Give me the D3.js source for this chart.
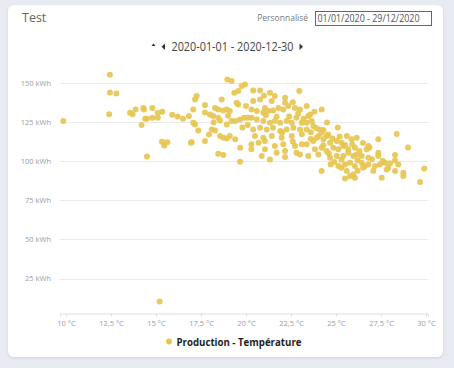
<!DOCTYPE html>
<html>
<head>
<meta charset="utf-8">
<script src="https://cdn.jsdelivr.net/npm/d3@7"></script>
<style>
  body { margin: 0; background: #e9ebf2; }
  svg { display: block; }
</style>
</head>
<body>
<div id="chart"></div>
<script>
// data: one temperature (°C) and one production (kWh) per day
var temperature = [
  9.85, 12.44, 12.44, 12.8, 12.4, 13.56, 13.7, 13.87, 14.3, 14.33, 14.8, 15.1, 15.35, 15.9, 16.2, 16.5,
  14.4, 14.5, 14.8, 15.1, 14.2, 15.33, 15.63, 15.46, 14.5, 15.2,
  18.96, 19.2, 19.57, 19.76, 19.94, 19.35, 17.26, 17.17, 18.65, 17.07, 17.72, 18.28, 18.46, 18.74, 18.93, 19.1,
  19.57, 19.48, 16.83, 17.72, 18.0, 18.18, 18.46, 18.56, 17.07, 17.17, 18.93, 19.2, 19.4, 19.67, 19.9, 20.1,
  17.35, 18.1, 18.28, 17.94, 18.56, 18.74, 18.93, 19.1, 19.4, 16.94, 17.72, 16.98, 19.67, 18.46, 18.74, 19.67,
  20.4, 20.78, 21.33, 21.6, 22.96, 20.4, 20.78, 21.05, 21.43, 22.17, 22.17, 20.3, 20.6, 20.96, 21.24, 21.5,
  21.8, 22.07, 22.35, 22.72, 23.0, 20.3, 20.6, 20.96, 21.33, 21.6, 21.9, 22.26, 22.54, 22.8, 23.1, 20.4,
  20.78, 21.15, 21.5, 21.9, 22.26, 22.63, 23.0, 20.5, 20.96, 21.43, 21.98, 22.54, 20.3, 20.7, 21.05, 21.6,
  22.07, 22.72, 23.1, 20.3, 21.05, 21.7, 22.17, 22.8, 20.87, 21.33, 22.17, 23.0,
  24.2, 23.37, 23.56, 23.46, 23.37, 23.65, 23.74, 23.37, 24.1, 24.2, 24.57, 24.48, 24.02, 23.74, 23.93, 24.3,
  24.67, 25.04, 25.3, 25.6, 25.87, 26.15, 23.37, 23.83, 24.2, 24.48, 24.85, 25.13, 25.4, 25.68, 26.05, 23.46,
  24.02, 24.67, 25.04, 25.4, 25.68, 25.96, 26.15, 25.13, 25.3, 25.5, 25.78, 26.05, 25.96, 24.2, 25.6, 25.78, 26.05,
  27.35, 26.8, 26.7, 26.85, 26.43, 26.8, 27.35, 27.35, 28.28, 28.28, 26.43, 26.6, 26.5, 26.8, 27.17, 27.44,
  27.72, 27.9, 27.82, 27.07, 27.54, 28.28, 28.46, 28.74, 28.74, 28.37, 29.0, 29.9, 29.67,
  22.4, 22.9, 23.2, 23.6, 23.9, 24.3, 24.8, 25.2, 25.5, 25.9, 26.3, 26.2, 25.3, 24.9, 24.6, 24.3,
  23.6, 23.1, 22.6, 22.0, 21.7, 21.1, 20.1, 19.8, 19.0, 18.2, 20.0, 21.0, 22.6, 23.8, 24.5, 25.1,
  26.5, 27.0, 27.6, 28.0, 26.2, 24.7, 25.5
];
var production = [
  125.6, 155.2, 143.9, 143.2, 130, 130.9, 130, 133, 134, 133, 133.9, 130.7, 131.5, 129.6, 128.5, 127,
  127, 127, 127.7, 127.7, 123, 112.4, 112, 110, 103, 10.4,
  152.2, 151.2, 144.8, 148, 149, 143.7, 141.6, 139.4, 139.4, 133, 135.8, 134, 133, 132.4, 133, 132,
  136.2, 137.3, 128.8, 131, 129.8, 128.8, 127.7, 126, 124.5, 123.4, 123.4, 125.6, 125.6, 126.6, 127.7, 127.7,
  119.6, 120.2, 119.6, 117, 116, 115, 114.5, 116, 113.9, 111.7, 112.8, 112, 108.6, 104.7, 103.9, 99.6,
  145.1, 145.1, 143.7, 141.6, 144.8, 138.4, 139.4, 134, 138.4, 140.5, 137.3, 133, 132, 131, 132, 132.4,
  134, 133, 135.2, 134, 133, 127.7, 126.6, 125.6, 124.5, 125.6, 124.5, 125.6, 124.5, 127.7, 124.5, 120.2,
  121.3, 120.2, 121.3, 119.2, 120.2, 121.3, 120.2, 116, 115, 116, 115, 116, 110.7, 111.7, 112.8, 109.6,
  110.7, 109.6, 110.7, 107.5, 107.5, 105.4, 106.4, 105.4, 103.2, 101.1, 102.6, 104.3,
  133, 135.2, 129.8, 128.8, 124.5, 125.6, 122.4, 120.2, 120.2, 118.1, 117, 116, 116, 112.8, 115, 113.9,
  111.7, 112.8, 111.7, 116, 113.9, 115, 110.7, 107.5, 108.6, 106.4, 108.6, 107.5, 109.6, 107.5, 108.6, 103.2,
  104.3, 102.2, 103.2, 103.2, 105.4, 103.2, 104.3, 96.9, 95.8, 97.9, 99, 96.9, 91.5, 93.7, 93.7, 90.5, 89.4,
  113.9, 109.6, 107.5, 108.6, 103.2, 102.2, 105.4, 103.2, 103.9, 100.4, 99, 96.9, 95.8, 97.9, 96.9, 97.9,
  99, 95.8, 94.7, 93.7, 89.4, 93.7, 97.9, 92.6, 90.5, 117.3, 108.7, 95.3, 86.7,
  128.5, 130.2, 127, 118.5, 121, 119.8, 114.5, 115.8, 110.3, 110.8, 106.5, 100.5, 100.8, 99.5, 104.8, 110.2,
  114.2, 117.2, 112.5, 118.2, 128.4, 129.3, 123.1, 121.4, 129, 124.6, 135.2, 141.8, 137.6, 131.5, 124.6, 121.4,
  111.6, 101.2, 100.2, 98.6, 93.8, 97.8, 88.9
];
var xTicks = [10, 12.5, 15, 17.5, 20, 22.5, 25, 27.5, 30];
var yTicks = [25, 50, 75, 100, 125, 150];
var seriesName = "Production - Température";
var periodLabel = "2020-01-01 - 2020-12-30";
var pickerLabel = "01/01/2020 - 29/12/2020";

var svgWidth = 454;
var svgHeight = 368;
var dotColor = "#e6c551";

var svg = d3.select("#chart")
  .append("svg")
  .attr("width", svgWidth)
  .attr("height", svgHeight)
  .style("font-family", "'Open Sans', sans-serif");

// soft shadow for the card
var defs = svg.append("defs");
var shadow = defs.append("filter").attr("id", "shadow")
  .attr("x", "-5%").attr("y", "-5%").attr("width", "110%").attr("height", "110%");
shadow.append("feDropShadow")
  .attr("dx", 0).attr("dy", 1).attr("stdDeviation", 1.5)
  .attr("flood-color", "#9aa0b5").attr("flood-opacity", 0.35);

svg.append("rect")
  .attr("x", 8).attr("y", 5)
  .attr("width", 435).attr("height", 352)
  .attr("rx", 6)
  .attr("fill", "#fff")
  .attr("filter", "url(#shadow)");

// header
svg.append("text")
  .attr("x", 22).attr("y", 22)
  .attr("font-size", 12.5)
  .attr("fill", "#666")
  .text("Test");

svg.append("text")
  .attr("x", 308).attr("y", 21)
  .attr("text-anchor", "end")
  .attr("font-size", 8.5)
  .attr("fill", "#7a7a7a")
  .text("Personnalisé");

svg.append("rect")
  .attr("x", 315.5).attr("y", 11.5)
  .attr("width", 116).attr("height", 14)
  .attr("fill", "#fff")
  .attr("stroke", "#666")
  .attr("stroke-width", 1);

svg.append("text")
  .attr("x", 317.5).attr("y", 22.3)
  .attr("font-size", 10)
  .attr("fill", "#555")
  .attr("textLength", 102)
  .attr("lengthAdjust", "spacingAndGlyphs")
  .text(pickerLabel);

// period navigation
var nav = svg.append("g").attr("fill", "#333");
nav.append("path").attr("d", "M151.5,46 L153.5,43.5 L155.5,46 Z");
nav.append("path").attr("d", "M165,43.5 L161.5,46.8 L165,50 Z");
nav.append("path").attr("d", "M299.5,43.5 L303,46.8 L299.5,50 Z");
svg.append("text")
  .attr("x", 171.5).attr("y", 51)
  .attr("font-size", 12)
  .attr("fill", "#444")
  .attr("textLength", 122)
  .attr("lengthAdjust", "spacingAndGlyphs")
  .text(periodLabel);

// scales
var xScale = d3.scaleLinear()
  .domain([9.667, 30.11])
  .range([60, 428]);

var yScale = d3.scaleLinear()
  .domain([3, 158])
  .range([313, 70.3]);

var fmtNum = d3.formatLocale({ decimal: ",", thousands: " ", grouping: [3], currency: ["", "€"] }).format("~g");

// gridlines
svg.append("g")
  .selectAll("line")
  .data(yTicks)
  .enter()
  .append("line")
  .attr("x1", 60).attr("x2", 428)
  .attr("y1", d => Math.round(yScale(d)) + 0.5)
  .attr("y2", d => Math.round(yScale(d)) + 0.5)
  .attr("stroke", "#e9e9ee");

// y axis labels
var leftAxis = d3.axisLeft(yScale)
  .tickValues(yTicks)
  .tickSize(0)
  .tickPadding(9)
  .tickFormat(d => d + " kWh");

var yAxis = svg.append("g")
  .attr("transform", "translate(60,0)")
  .call(leftAxis);
yAxis.select(".domain").remove();
yAxis.selectAll("text")
  .attr("font-size", 7.5)
  .attr("font-family", "'Open Sans', sans-serif")
  .attr("fill", "#9a9ca8");

// x axis
var bottomAxis = d3.axisBottom(xScale)
  .tickValues(xTicks)
  .tickSize(3)
  .tickPadding(4)
  .tickFormat(d => fmtNum(d) + " °C");

var xAxis = svg.append("g")
  .attr("transform", "translate(0,313.5)")
  .call(bottomAxis);
xAxis.select(".domain").attr("stroke", "#dcdde4");
xAxis.selectAll(".tick line").attr("stroke", "#dcdde4");
xAxis.selectAll("text")
  .attr("font-size", 7.5)
  .attr("font-family", "'Open Sans', sans-serif")
  .attr("fill", "#9a9ca8");

// points
var points = temperature.map((t, i) => ({ t: t, e: production[i] }));

svg.append("g")
  .selectAll("circle")
  .data(points)
  .enter()
  .append("circle")
  .attr("cx", d => xScale(d.t))
  .attr("cy", d => yScale(d.e))
  .attr("r", 3)
  .attr("fill", dotColor)
  .attr("fill-opacity", 0.92);

// legend
svg.append("circle")
  .attr("cx", 169).attr("cy", 341.5)
  .attr("r", 3)
  .attr("fill", dotColor);

svg.append("text")
  .attr("x", 176.5).attr("y", 345.5)
  .attr("font-size", 11)
  .attr("font-weight", "bold")
  .attr("fill", "#1e1e1e")
  .attr("textLength", 125)
  .attr("lengthAdjust", "spacingAndGlyphs")
  .text(seriesName);
</script>
</body>
</html>
